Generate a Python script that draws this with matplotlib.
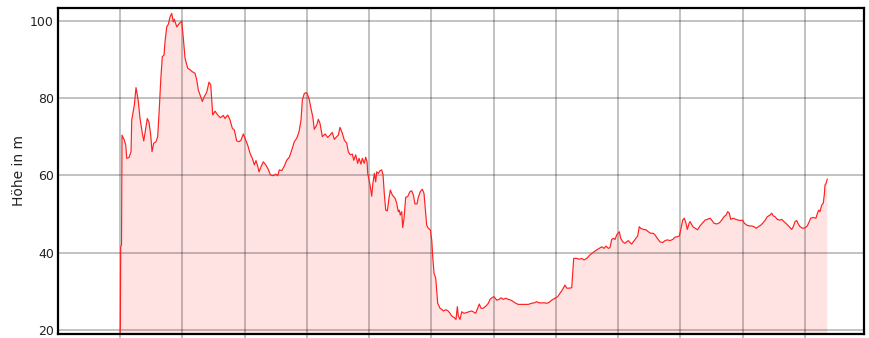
import numpy as np
from matplotlib import pyplot as plt

# elevation profile: distance along route (grid units) and height (m)
dist = [0.000, 0.005, 0.011, 0.024, 0.032, 0.069, 0.092, 0.108, 0.145, 0.177,
        0.188, 0.230, 0.257, 0.278, 0.294, 0.321, 0.358, 0.381, 0.413, 0.438,
        0.466, 0.493, 0.514, 0.541, 0.578, 0.605, 0.631, 0.654, 0.679, 0.707,
        0.723, 0.750, 0.776, 0.803, 0.830, 0.856, 0.872, 0.911, 0.952, 0.991,
        1.017, 1.044, 1.087, 1.124, 1.161, 1.204, 1.232, 1.257, 1.285, 1.322,
        1.354, 1.392, 1.429, 1.457, 1.489, 1.526, 1.569, 1.611, 1.659, 1.686,
        1.730, 1.767, 1.803, 1.836, 1.874, 1.911, 1.943, 1.980, 2.007, 2.051,
        2.088, 2.125, 2.157, 2.184, 2.211, 2.232, 2.264, 2.301, 2.340, 2.382,
        2.414, 2.462, 2.500, 2.533, 2.558, 2.597, 2.639, 2.677, 2.719, 2.757,
        2.799, 2.838, 2.875, 2.907, 2.928, 2.960, 2.998, 3.035, 3.067, 3.095,
        3.120, 3.159, 3.185, 3.212, 3.249, 3.292, 3.336, 3.372, 3.409, 3.441,
        3.480, 3.506, 3.533, 3.570, 3.602, 3.641, 3.666, 3.698, 3.731, 3.753,
        3.785, 3.817, 3.838, 3.870, 3.891, 3.923, 3.946, 3.967, 3.978, 3.999,
        4.015, 4.042, 4.058, 4.084, 4.106, 4.122, 4.148, 4.175, 4.203, 4.224,
        4.244, 4.267, 4.293, 4.320, 4.341, 4.373, 4.416, 4.443, 4.469, 4.485,
        4.501, 4.524, 4.540, 4.561, 4.588, 4.620, 4.657, 4.684, 4.711, 4.737,
        4.769, 4.790, 4.823, 4.855, 4.882, 4.909, 4.925, 4.951, 4.983, 5.006,
        5.022, 5.043, 5.070, 5.102, 5.139, 5.176, 5.192, 5.230, 5.263, 5.299,
        5.327, 5.368, 5.396, 5.417, 5.433, 5.460, 5.488, 5.524, 5.568, 5.605,
        5.648, 5.690, 5.712, 5.754, 5.770, 5.797, 5.834, 5.878, 5.915, 5.942,
        5.979, 6.006, 6.050, 6.087, 6.119, 6.156, 6.194, 6.236, 6.279, 6.316,
        6.355, 6.396, 6.477, 6.557, 6.612, 6.653, 6.692, 6.729, 6.772, 6.814,
        6.852, 6.889, 6.933, 6.986, 7.029, 7.066, 7.093, 7.119, 7.146, 7.174,
        7.210, 7.254, 7.270, 7.286, 7.334, 7.376, 7.414, 7.451, 7.495, 7.548,
        7.601, 7.655, 7.697, 7.736, 7.773, 7.805, 7.842, 7.869, 7.896, 7.922,
        7.949, 7.977, 8.018, 8.041, 8.073, 8.110, 8.137, 8.163, 8.190, 8.217,
        8.243, 8.286, 8.313, 8.339, 8.362, 8.404, 8.447, 8.484, 8.523, 8.564,
        8.591, 8.628, 8.672, 8.715, 8.752, 8.789, 8.832, 8.876, 8.913, 8.950,
        8.982, 9.004, 9.036, 9.062, 9.089, 9.110, 9.142, 9.154, 9.201, 9.237,
        9.274, 9.314, 9.358, 9.395, 9.432, 9.475, 9.502, 9.539, 9.583, 9.624,
        9.663, 9.700, 9.732, 9.759, 9.785, 9.807, 9.849, 9.892, 9.929, 9.968,
        10.000, 10.026, 10.065, 10.106, 10.145, 10.182, 10.214, 10.251, 10.289, 10.321,
        10.358, 10.395, 10.438, 10.466, 10.491, 10.519, 10.556, 10.599, 10.626, 10.663,
        10.706, 10.748, 10.787, 10.812, 10.840, 10.867, 10.893, 10.920, 10.963, 11.000,
        11.037, 11.069, 11.092, 11.133, 11.176, 11.197, 11.220, 11.241, 11.269, 11.294,
        11.310, 11.322, 11.338, 11.358]

hoehe = [18.0, 21.3, 41.5, 42.0, 70.4, 69.1, 67.8, 64.4, 64.6, 66.1,
         74.3, 78.2, 82.7, 80.8, 79.1, 74.7, 70.9, 68.9, 72.2, 74.7,
         73.7, 70.4, 66.1, 68.3, 68.7, 70.0, 77.3, 84.7, 90.7, 91.1,
         94.6, 98.4, 99.1, 101.0, 101.9, 99.7, 100.4, 98.4, 99.3, 99.9,
         95.4, 90.3, 87.7, 87.3, 86.8, 86.4, 84.7, 82.1, 80.8, 79.1,
         80.4, 81.5, 84.1, 83.4, 75.6, 76.6, 75.6, 74.9, 75.5, 74.7,
         75.6, 74.3, 72.2, 71.7, 68.9, 68.7, 69.1, 70.7, 69.6, 67.8,
         65.7, 64.4, 62.7, 63.8, 62.4, 60.9, 62.2, 63.5, 62.7, 61.5,
         60.1, 59.9, 60.3, 59.9, 61.4, 61.2, 62.4, 63.9, 64.7, 66.5,
         68.7, 69.6, 71.3, 74.3, 79.5, 81.2, 81.4, 79.9, 77.3, 75.2,
         71.9, 73.0, 74.5, 73.4, 70.0, 70.7, 69.8, 70.4, 71.1, 69.3,
         70.0, 70.4, 72.4, 70.9, 69.1, 68.3, 66.1, 65.3, 65.5, 63.9,
         65.3, 63.1, 64.4, 62.9, 64.4, 63.1, 64.7, 63.5, 60.5, 58.8,
         57.5, 54.6, 57.5, 60.5, 58.3, 60.9, 60.5, 61.2, 61.4, 60.1,
         55.3, 51.0, 50.8, 54.1, 56.2, 54.9, 54.1, 52.8, 50.6, 51.0,
         49.7, 50.6, 46.5, 48.9, 54.3, 54.5, 55.8, 56.0, 54.9, 52.6,
         52.6, 54.3, 55.8, 56.4, 55.3, 50.2, 47.1, 46.3, 45.9, 43.3,
         38.9, 34.6, 33.4, 26.9, 25.6, 25.2, 24.9, 25.2, 25.0, 24.3,
         23.6, 23.2, 22.7, 26.0, 23.6, 22.7, 24.7, 24.3, 24.5, 24.7,
         24.9, 24.5, 24.3, 26.0, 26.7, 25.6, 25.6, 26.2, 26.9, 27.9,
         28.4, 28.6, 27.7, 27.9, 28.3, 27.9, 28.2, 27.9, 27.7, 27.3,
         26.9, 26.6, 26.6, 26.6, 26.9, 27.0, 27.3, 27.0, 27.0, 27.0,
         26.9, 27.1, 27.7, 28.2, 28.6, 29.5, 30.1, 30.8, 31.6, 30.8,
         30.8, 30.9, 34.7, 38.5, 38.5, 38.3, 38.5, 38.1, 38.5, 39.4,
         40.1, 40.7, 41.1, 41.5, 41.1, 41.7, 41.1, 41.3, 43.4, 43.7,
         43.4, 44.6, 45.4, 43.7, 42.8, 42.4, 42.8, 43.1, 42.6, 42.2,
         42.8, 43.7, 44.3, 46.7, 46.3, 46.0, 45.9, 45.4, 45.0, 45.0,
         44.6, 43.7, 42.8, 42.6, 43.1, 43.3, 43.1, 43.4, 44.0, 44.1,
         44.3, 45.9, 48.4, 48.9, 47.6, 46.0, 47.7, 48.0, 46.7, 46.3,
         45.9, 46.9, 47.7, 48.4, 48.6, 48.9, 48.4, 47.6, 47.4, 47.7,
         48.4, 49.3, 49.7, 50.6, 50.2, 48.6, 48.9, 48.6, 48.4, 48.3,
         48.4, 47.6, 47.1, 46.9, 46.9, 46.7, 46.3, 46.7, 47.1, 47.6,
         48.3, 49.3, 49.7, 50.2, 49.5, 49.3, 48.6, 48.4, 48.6, 48.0,
         47.4, 46.7, 46.0, 46.7, 48.0, 48.3, 47.4, 46.7, 46.3, 46.4,
         46.9, 48.0, 48.9, 49.1, 48.9, 50.0, 51.0, 50.6, 52.3, 52.8,
         54.9, 57.5, 57.9, 59.0]

y_ticks = [20, 40, 60, 80, 100]
x_grid = list(range(0, 12))

fig = plt.figure(figsize=(8.69, 3.38), dpi=100)
ax = fig.add_axes([58/869, 1 - 334/338, (864 - 58)/869, (334 - 7.5)/338])

ax.fill_between(dist, hoehe, 0, color='#ff0000', alpha=0.11, linewidth=0, zorder=1)
ax.plot(dist, hoehe, color='#ff2020', linewidth=0.85, zorder=3)

ax.set_xlim(-0.996, 11.948)
ax.set_ylim(18.94, 103.42)

ax.set_yticks(y_ticks)
ax.set_xticks(x_grid)
ax.set_xticklabels([])
ax.grid(True, color='black', alpha=0.24, linewidth=1.4, zorder=2)
ax.set_axisbelow(False)

ax.tick_params(axis='y', length=0, pad=3, labelsize=9, labelcolor='#222222')
ax.tick_params(axis='x', length=3, width=1.4, color='#bdbdbd')

for s in ax.spines.values():
    s.set_linewidth(1.6)
    s.set_color('black')
    s.set_zorder(5)

ax.set_ylabel('Höhe in m', fontsize=10, color='#222222', labelpad=3)

fig.savefig('out.png', dpi=100)
